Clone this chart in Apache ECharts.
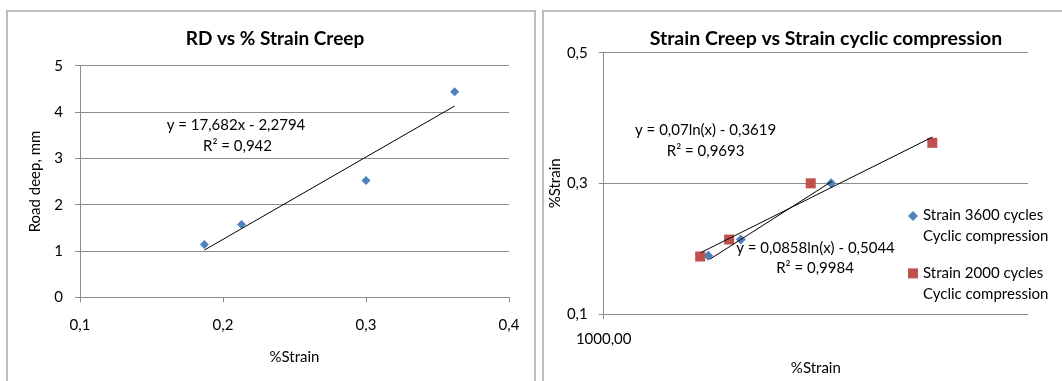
<!DOCTYPE html>
<html>
<head>
<meta charset="utf-8">
<script src="https://cdn.jsdelivr.net/npm/echarts@6/dist/echarts.min.js"></script>
<style>
html,body{margin:0;padding:0;background:#fff;}
#chart{width:1062px;height:381px;}
</style>
</head>
<body>
<div id="chart"></div>
<script>
// ---- Left chart data: RD vs % Strain Creep ----
const leftXTicks = [0.1, 0.2, 0.3, 0.4];
const leftYTicks = [0, 1, 2, 3, 4, 5];
const leftStrain = [0.187, 0.213, 0.300, 0.362];
const leftRoadDeep = [1.14, 1.57, 2.52, 4.44];
const leftTrendX = [0.187, 0.362];
const leftTrendY = [1.02, 4.13];
const leftEquation = ['y = 17,682x - 2,2794', 'R² = 0,942'];

// ---- Right chart data: Strain Creep vs Strain cyclic compression ----
const rightXTicks = [1000];
const rightYTicks = [0.1, 0.3, 0.5];
const series3600Name = 'Strain 3600 cycles\nCyclic compression';
const series2000Name = 'Strain 2000 cycles\nCyclic compression';
const s3600X = [3110, 4430, 11800];
const s3600Y = [0.189, 0.214, 0.300];
const s2000X = [2850, 3900, 9460, 35400];
const s2000Y = [0.188, 0.214, 0.300, 0.362];
const trend3600X = [3170, 11900];
const trend3600Y = [0.184, 0.303];
const trend2000X = [2870, 35500];
const trend2000Y = [0.194, 0.371];
const eq2000 = ['y = 0,07ln(x) - 0,3619', 'R² = 0,9693'];
const eq3600 = ['y = 0,0858ln(x) - 0,5044', 'R² = 0,9984'];

const FONT = 'Lato';
const BLUE = '#4f81bd';
const RED = '#c0504d';
const GRID = '#8c8c8c';

function pairs(xs, ys) { return xs.map((x, i) => [x, ys[i]]); }
function comma(v, d) { return (d === undefined ? String(v) : v.toFixed(d)).replace('.', ','); }

const axisLineStyle = { show: true, lineStyle: { color: GRID, width: 1 } };
const tickStyle = { show: true, inside: false, length: 5, lineStyle: { color: GRID } };
const labelText = { color: '#000', fontFamily: FONT, fontSize: 15 };

const chart = echarts.init(document.getElementById('chart'), null, { renderer: 'canvas' });

const option = {
  backgroundColor: '#fff',
  animation: false,
  textStyle: { fontFamily: FONT },
  title: [
    { text: 'RD vs % Strain Creep', left: 270, top: 24, textAlign: 'center',
      textStyle: { fontFamily: FONT, fontWeight: 'bold', fontSize: 19, color: '#000' } },
    { text: 'Strain Creep vs Strain cyclic compression', left: 821, top: 24, textAlign: 'center',
      textStyle: { fontFamily: FONT, fontWeight: 'bold', fontSize: 19.5, color: '#000' } }
  ],
  grid: [
    { left: 80, top: 65.7, width: 429, height: 231.6, containLabel: false },
    { left: 603.7, top: 52.7, width: 424.3, height: 265.6, containLabel: false }
  ],
  legend: {
    orient: 'vertical',
    left: 903,
    top: 200.3,
    itemGap: 16,
    itemWidth: 10,
    itemHeight: 30,
    textStyle: { color: '#000', fontFamily: FONT, fontSize: 15, lineHeight: 20.7 },
    data: [
      { name: series3600Name, icon: 'path://M5,0 L10,5 L5,10 L0,5 Z M5,30 L5,30' },
      { name: series2000Name, icon: 'path://M0,0 L10,0 L10,10 L0,10 Z M5,30 L5,30' }
    ],
    selectedMode: false
  },
  xAxis: [
    {
      gridIndex: 0, type: 'value', min: 0.1, max: 0.4, interval: 0.1,
      name: '%Strain', nameLocation: 'middle', nameGap: 52,
      nameTextStyle: { color: '#000', fontFamily: FONT, fontSize: 15 },
      axisLine: axisLineStyle, axisTick: tickStyle,
      axisLabel: Object.assign({ margin: 20, customValues: leftXTicks,
        formatter: v => comma(Math.round(v * 10) / 10) }, labelText),
      splitLine: { show: false }
    },
    {
      gridIndex: 1, type: 'log', logBase: 10, min: 1000, max: 100000,
      name: '%Strain', nameLocation: 'middle', nameGap: 47,
      nameTextStyle: { color: '#000', fontFamily: FONT, fontSize: 15 },
      axisLine: axisLineStyle,
      axisTick: Object.assign({ customValues: rightXTicks }, tickStyle),
      axisLabel: Object.assign({ margin: 18, customValues: rightXTicks,
        formatter: v => comma(Number(v), 2) }, labelText),
      splitLine: { show: false },
      minorTick: { show: false }
    }
  ],
  yAxis: [
    {
      gridIndex: 0, type: 'value', min: 0, max: 5, interval: 1,
      name: 'Road deep, mm', nameLocation: 'middle', nameGap: 37,
      nameTextStyle: { color: '#000', fontFamily: FONT, fontSize: 15 },
      axisLine: axisLineStyle, axisTick: tickStyle,
      axisLabel: Object.assign({ margin: 17, customValues: leftYTicks,
        formatter: v => comma(v) }, labelText),
      splitLine: { show: true, lineStyle: { color: GRID, width: 1 } }
    },
    {
      gridIndex: 1, type: 'value', min: 0.1, max: 0.5, interval: 0.2,
      name: '%Strain', nameLocation: 'middle', nameGap: 40,
      nameTextStyle: { color: '#000', fontFamily: FONT, fontSize: 15 },
      axisLine: axisLineStyle,
      axisTick: Object.assign({ customValues: rightYTicks }, tickStyle),
      axisLabel: Object.assign({ margin: 16, customValues: rightYTicks,
        formatter: v => comma(Math.round(v * 10) / 10) }, labelText),
      splitLine: { show: true, lineStyle: { color: GRID, width: 1 } }
    }
  ],
  series: [
    {
      name: 'RD', type: 'scatter', xAxisIndex: 0, yAxisIndex: 0,
      symbol: 'diamond', symbolSize: 9, itemStyle: { color: BLUE, opacity: 1 },
      data: pairs(leftStrain, leftRoadDeep), z: 3
    },
    {
      name: 'RD trend', type: 'line', xAxisIndex: 0, yAxisIndex: 0,
      showSymbol: false, symbol: 'none', silent: true,
      lineStyle: { color: '#000', width: 1 },
      data: pairs(leftTrendX, leftTrendY), z: 4
    },
    {
      name: series3600Name, type: 'scatter', xAxisIndex: 1, yAxisIndex: 1,
      symbol: 'diamond', symbolSize: 10, itemStyle: { color: BLUE, opacity: 1 },
      data: pairs(s3600X, s3600Y), z: 3
    },
    {
      name: series2000Name, type: 'scatter', xAxisIndex: 1, yAxisIndex: 1,
      symbol: 'rect', symbolSize: 10, itemStyle: { color: RED, opacity: 1 },
      data: pairs(s2000X, s2000Y), z: 3
    },
    {
      name: '3600 trend', type: 'line', xAxisIndex: 1, yAxisIndex: 1,
      showSymbol: false, symbol: 'none', silent: true,
      lineStyle: { color: '#000', width: 1 },
      data: pairs(trend3600X, trend3600Y), z: 4
    },
    {
      name: '2000 trend', type: 'line', xAxisIndex: 1, yAxisIndex: 1,
      showSymbol: false, symbol: 'none', silent: true,
      lineStyle: { color: '#000', width: 1 },
      data: pairs(trend2000X, trend2000Y), z: 4
    }
  ],
  graphic: [
    { type: 'rect', silent: true, z: -1, shape: { x: 7, y: 11, width: 528, height: 400 },
      style: { fill: 'none', stroke: '#bdbdbd', lineWidth: 2 } },
    { type: 'rect', silent: true, z: -1, shape: { x: 543, y: 11, width: 540, height: 400 },
      style: { fill: 'none', stroke: '#bdbdbd', lineWidth: 2 } },
    { type: 'text', x: 236, y: 125, z: 10, style: { text: leftEquation[0], align: 'center', verticalAlign: 'middle', font: '15px ' + FONT, fill: '#000' } },
    { type: 'text', x: 237.5, y: 145.7, z: 10, style: { text: leftEquation[1], align: 'center', verticalAlign: 'middle', font: '15px ' + FONT, fill: '#000' } },
    { type: 'text', x: 705.6, y: 130, z: 10, style: { text: eq2000[0], align: 'center', verticalAlign: 'middle', font: '15px ' + FONT, fill: '#000' } },
    { type: 'text', x: 705.6, y: 150.7, z: 10, style: { text: eq2000[1], align: 'center', verticalAlign: 'middle', font: '15px ' + FONT, fill: '#000' } },
    { type: 'text', x: 815.5, y: 248.3, z: 10, style: { text: eq3600[0], align: 'center', verticalAlign: 'middle', font: '15px ' + FONT, fill: '#000' } },
    { type: 'text', x: 815, y: 267.7, z: 10, style: { text: eq3600[1], align: 'center', verticalAlign: 'middle', font: '15px ' + FONT, fill: '#000' } }
  ]
};

chart.setOption(option);
</script>
</body>
</html>
